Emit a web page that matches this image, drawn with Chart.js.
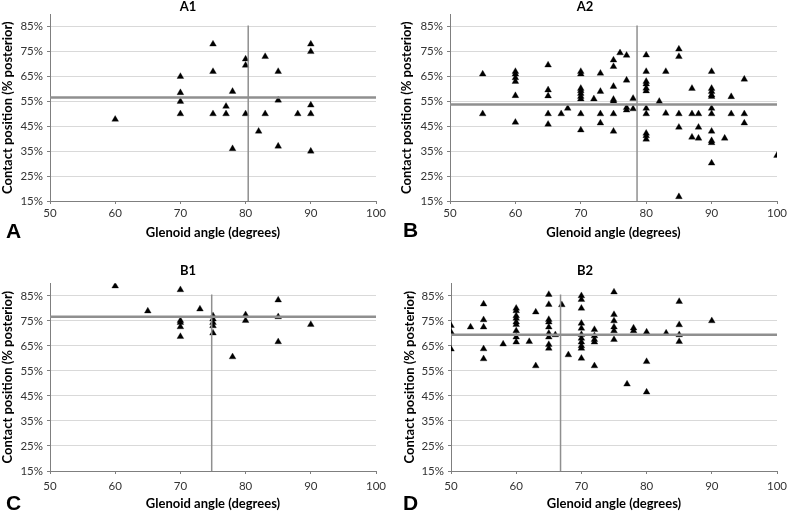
<!DOCTYPE html>
<html>
<head>
<meta charset="utf-8">
<script src="https://cdn.jsdelivr.net/npm/chart.js@4/dist/chart.umd.min.js"></script>
<style>
  html, body { margin: 0; padding: 0; background: #fff; }
  #wrap { position: relative; width: 787px; height: 512px; }
  .panel { position: absolute; height: 256px; }
</style>
</head>
<body>
<div id="wrap">
  <div class="panel" style="left:0;top:0;width:393px"><canvas id="chartA"></canvas></div>
  <div class="panel" style="left:393px;top:0;width:394px"><canvas id="chartB"></canvas></div>
  <div class="panel" style="left:0;top:256px;width:393px"><canvas id="chartC"></canvas></div>
  <div class="panel" style="left:393px;top:256px;width:394px"><canvas id="chartD"></canvas></div>
</div>
<script>
// axis ticks shared by all four panels
const xTicks = [50, 60, 70, 80, 90, 100];
const yTicks = [15, 25, 35, 45, 55, 65, 75, 85];

// A1
const a1Angle   = [60, 70, 70, 70, 70, 75, 75, 75, 77, 77, 78, 78, 80, 80, 80, 82, 83, 83, 85, 85, 85, 88, 90, 90, 90, 90, 90];
const a1Contact = [47.8, 65, 58.5, 55, 50, 78, 67, 50, 53, 50, 59, 36, 72, 69.5, 50, 43, 73, 50, 67, 55.5, 37, 50, 78, 75, 53.5, 50, 35];
const a1Mean = [80.4, 56.6]; // angle, contact

// A2
const a2Angle = [55, 55,
  60, 60, 60, 60, 60, 60,
  65, 65, 65, 65, 65,
  67, 68,
  70, 70, 70, 70, 70, 70, 70, 70, 70,
  72, 73, 73, 73, 73,
  75, 75, 75, 75, 75, 75, 75,
  76, 77, 77, 77, 77, 78, 78,
  80, 80, 80, 80, 80, 80, 80, 80, 80, 80, 80,
  82, 83, 83,
  85, 85, 85, 85, 85,
  87, 87, 87, 88, 88, 88,
  90, 90, 90, 90, 90, 90, 90, 90, 90, 90, 90,
  92, 93, 93, 95, 95, 95, 100];
const a2Contact = [66, 50,
  67, 66, 64.5, 63, 57.3, 46.6,
  69.6, 59.6, 57.2, 50, 45.8,
  50, 52.2,
  67, 66, 60.2, 59.3, 58.2, 57, 56, 50, 43.5,
  56, 66.3, 59, 50, 46.3,
  71.6, 69, 61, 55.8, 55.2, 50, 43,
  74.5, 73.5, 63.5, 52.5, 51.5, 56.2, 52,
  73.6, 67, 63, 62, 60.3, 59.2, 52.2, 50, 42.2, 41.2, 39.8,
  55, 67, 50.2,
  76, 73, 50, 44.6, 16.7,
  60.2, 50, 40.6, 50, 44.6, 40.2,
  67, 60.2, 59, 57.6, 57, 52.2, 50, 43, 39.2, 38.4, 30.2,
  40.2, 56.9, 50, 63.9, 50, 46.3, 33.3];
const a2Mean = [78.6, 53.8];

// B1
const b1Angle   = [60, 65, 70, 70, 70, 70, 70, 73, 75, 75, 75, 75, 75, 78, 80, 80, 85, 85, 85, 90];
const b1Contact = [88.9, 78.9, 87.4, 75.1, 74.3, 72.6, 68.7, 79.7, 77, 75.7, 74.3, 73, 70.1, 60.6, 77.4, 75.1, 83.3, 76.6, 66.6, 73.5];
const b1Mean = [74.8, 76.6];

// B2
const b2Angle = [50, 50, 50, 53,
  55, 55, 55, 55, 55, 58,
  60, 60, 60, 60, 60, 60, 60, 60, 60,
  62, 63, 63,
  65, 65, 65, 65, 65, 65, 65, 65, 65,
  66, 67, 68,
  70, 70, 70, 70, 70, 70, 70, 70, 70, 70, 70,
  72, 72, 72, 72, 72,
  75, 75, 75, 75, 75, 75,
  77, 78, 78, 80, 80, 80, 83,
  85, 85, 85, 85, 90];
const b2Contact = [73.1, 70.5, 63.7, 72.5,
  81.7, 75.4, 72.5, 63.8, 59.8, 65.7,
  80, 79, 77, 76, 74.5, 73.5, 71, 68.5, 66.5,
  66.7, 78.5, 57,
  85.5, 81.5, 75.5, 74.5, 72.5, 70, 68.5, 65.5, 64,
  69.4, 81.4, 61.4,
  85, 83.5, 80, 74, 72, 69.5, 68, 66.5, 65, 64, 60,
  71.5, 69, 67.5, 66.5, 57,
  86.5, 77.5, 75, 72.5, 71, 67.5,
  49.7, 72.1, 71, 70.5, 58.7, 46.5, 70.1,
  82.7, 73.4, 69.4, 66.7, 75];
const b2Mean = [66.8, 69.4];

const FONT = "Lato, 'Open Sans', sans-serif";
const GRID = '#d9d9d9';
const AXIS = '#7f7f7f';
const MEAN = '#8f8f8f';

function toPoints(xs, ys) {
    return xs.map((x, i) => ({ x: x, y: ys[i] }));
}

// panel letter in the lower left corner
const letterPlugin = {
    id: 'panelLetter',
    afterDraw(chart, args, opts) {
        const ctx = chart.ctx;
        ctx.save();
        ctx.font = "bold 21px 'Liberation Sans', Arial, sans-serif";
        ctx.fillStyle = '#000';
        ctx.textBaseline = 'middle';
        ctx.textAlign = 'left';
        ctx.fillText(opts.text, opts.x, opts.y);
        ctx.restore();
    }
};

function makePanel(id, title, angles, contacts, mean, lay) {
    const ctx = document.getElementById(id).getContext('2d');
    return new Chart(ctx, {
        type: 'scatter',
        data: {
            datasets: [
                {
                    data: [{ x: 50, y: mean[1] }, { x: 100, y: mean[1] }],
                    showLine: true, borderColor: MEAN, borderWidth: 2.5, pointRadius: 0
                },
                {
                    data: [{ x: mean[0], y: 15 }, { x: mean[0], y: 85.5 }],
                    showLine: true, borderColor: MEAN, borderWidth: 1.5, pointRadius: 0
                },
                {
                    data: toPoints(angles, contacts),
                    pointStyle: 'triangle',
                    pointRadius: 3.9,
                    backgroundColor: '#000',
                    borderColor: '#000',
                    borderWidth: 0.3
                }
            ]
        },
        options: {
            responsive: true,
            maintainAspectRatio: false,
            animation: false,
            layout: { padding: { left: 0, right: lay.right, top: 0, bottom: 0 } },
            plugins: {
                legend: { display: false },
                tooltip: { enabled: false },
                title: {
                    display: true,
                    text: title,
                    color: '#000',
                    font: { family: FONT, size: 13, weight: 'bold', lineHeight: 1.1 },
                    padding: { top: lay.titleTop, bottom: lay.titleBottom }
                },
                panelLetter: { text: lay.letter, x: lay.letterX, y: lay.letterY }
            },
            scales: {
                x: {
                    type: 'linear',
                    min: 50,
                    max: 100,
                    afterBuildTicks: scale => { scale.ticks = xTicks.map(v => ({ value: v })); },
                    afterFit: scale => {
                        scale.height = 256 - lay.bottom;
                        scale.paddingLeft = 0;
                        scale.paddingRight = 0;
                    },
                    border: { color: AXIS, width: 1 },
                    grid: { drawOnChartArea: false, drawTicks: true, tickLength: 3, tickColor: AXIS },
                    ticks: { color: '#333', font: { family: FONT, size: 11.5 }, padding: lay.tickPad, maxRotation: 0 },
                    title: {
                        display: true,
                        text: 'Glenoid angle (degrees)',
                        color: '#000',
                        font: { family: FONT, size: 13, weight: 'bold' },
                        padding: { top: 0, bottom: lay.xTitlePad }
                    }
                },
                y: {
                    type: 'linear',
                    min: 15,
                    max: 90,
                    afterBuildTicks: scale => { scale.ticks = yTicks.map(v => ({ value: v })); },
                    afterFit: scale => {
                        scale.width = lay.left;
                        scale.paddingTop = 0;
                        scale.paddingBottom = 0;
                    },
                    border: { color: AXIS, width: 1 },
                    grid: { color: GRID, lineWidth: 1, drawTicks: true, tickLength: 3, tickColor: AXIS },
                    ticks: {
                        color: '#333',
                        font: { family: FONT, size: 11.5 },
                        padding: 4,
                        callback: v => v + '%'
                    },
                    title: {
                        display: true,
                        text: 'Contact position (% posterior)',
                        color: '#000',
                        font: { family: FONT, size: 13, weight: 'bold' },
                        padding: { top: lay.yTitlePad, bottom: 0 }
                    }
                }
            }
        },
        plugins: [letterPlugin]
    });
}

makePanel('chartA', 'A1', a1Angle, a1Contact, a1Mean, {
    left: 50, right: 17, bottom: 201, titleTop: 0, titleBottom: 0,
    tickPad: 2, xTitlePad: 15, yTitlePad: 0, letter: 'A', letterX: 6, letterY: 232
});
makePanel('chartB', 'A2', a2Angle, a2Contact, a2Mean, {
    left: 57, right: 10, bottom: 201, titleTop: 0, titleBottom: 0,
    tickPad: 2, xTitlePad: 15, yTitlePad: 6, letter: 'B', letterX: 10, letterY: 231
});
makePanel('chartC', 'B1', b1Angle, b1Contact, b1Mean, {
    left: 50, right: 17, bottom: 215, titleTop: 8, titleBottom: 5,
    tickPad: 5, xTitlePad: 0, yTitlePad: 0, letter: 'C', letterX: 6, letterY: 248
});
makePanel('chartD', 'B2', b2Angle, b2Contact, b2Mean, {
    left: 58, right: 10, bottom: 215, titleTop: 8, titleBottom: 5,
    tickPad: 5, xTitlePad: 0, yTitlePad: 9, letter: 'D', letterX: 10, letterY: 248
});
</script>
</body>
</html>
